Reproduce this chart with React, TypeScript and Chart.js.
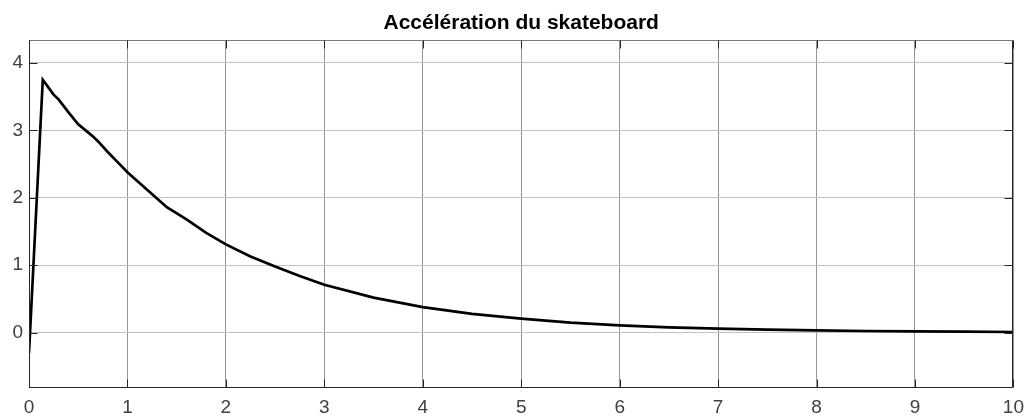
import React, { useEffect, useRef } from "react";
import { Chart, registerables } from "chart.js";

Chart.register(...registerables);

const titleText = "Accélération du skateboard";
const timeValues = [0, 0.14, 0.2, 0.25, 0.3, 0.4, 0.5, 0.6, 0.65, 0.7, 0.8, 0.9, 1.0, 1.2, 1.4, 1.6, 1.8, 2.0, 2.25, 2.5, 2.75, 3.0, 3.5, 4.0, 4.5, 5.0, 5.5, 6.0, 6.5, 7.0, 7.5, 8.0, 8.5, 9.0, 9.5, 10];
const accelValues = [-0.3, 3.75, 3.63, 3.53, 3.46, 3.27, 3.09, 2.97, 2.91, 2.84, 2.68, 2.53, 2.38, 2.12, 1.86, 1.68, 1.48, 1.31, 1.13, 0.98, 0.84, 0.71, 0.52, 0.38, 0.28, 0.21, 0.15, 0.11, 0.08, 0.06, 0.045, 0.035, 0.025, 0.02, 0.015, 0.01];
const xTicks = [0, 1, 2, 3, 4, 5, 6, 7, 8, 9, 10];
const yTicks = [0, 1, 2, 3, 4];
const yMin = -0.82;
const yMax = 4.34;

const boxPlugin = {
  id: "boxTicks",
  afterDraw(chart: any) {
    const { ctx, chartArea } = chart;
    const xs = chart.scales.x;
    const ys = chart.scales.y;
    ctx.save();
    // title centred over the plot area
    ctx.fillStyle = "#000000";
    ctx.font = "bold 21px 'Liberation Sans', Arial, sans-serif";
    ctx.textAlign = "center";
    ctx.textBaseline = "middle";
    ctx.fillText(titleText, (chartArea.left + chartArea.right) / 2, 23);

    ctx.lineWidth = 1;
    const L = Math.round(chartArea.left) + 0.5;
    const R = Math.round(chartArea.right) - 0.5;
    const T = Math.round(chartArea.top) + 0.5;
    const B = Math.round(chartArea.bottom) - 0.5;
    ctx.strokeStyle = "#7a7a7a";
    ctx.beginPath();
    ctx.moveTo(L, T);
    ctx.lineTo(R, T);
    ctx.stroke();
    ctx.strokeStyle = "#262626";
    ctx.beginPath();
    ctx.moveTo(L, T);
    ctx.lineTo(L, B);
    ctx.lineTo(R, B);
    ctx.lineTo(R, T);
    const tl = 8;
    xTicks.forEach((v) => {
      const px = Math.round(xs.getPixelForValue(v)) + 0.5;
      ctx.moveTo(px, B);
      ctx.lineTo(px, B - tl);
      ctx.moveTo(px, T);
      ctx.lineTo(px, T + tl);
    });
    yTicks.forEach((v) => {
      const py = Math.round(ys.getPixelForValue(v)) + 0.5;
      ctx.moveTo(L, py);
      ctx.lineTo(L + tl, py);
      ctx.moveTo(R, py);
      ctx.lineTo(R - tl, py);
    });
    ctx.stroke();
    ctx.restore();
  },
};

export default function App() {
  const ref = useRef<HTMLCanvasElement>(null);
  useEffect(() => {
    if (!ref.current) return;
    const chart = new Chart(ref.current, {
      type: "line",
      data: {
        datasets: [
          {
            data: timeValues.map((t, i) => ({ x: t, y: accelValues[i] })),
            borderColor: "#000000",
            borderWidth: 2.7,
            pointRadius: 0,
            tension: 0,
            fill: false,
          },
        ],
      },
      options: {
        responsive: false,
        animation: false,
        layout: { padding: { left: 0, right: 15, top: 40, bottom: 0 } },
        plugins: {
          legend: { display: false },
          tooltip: { enabled: false },
          title: { display: false },
        },
        scales: {
          x: {
            type: "linear",
            min: 0,
            max: 10,
            afterBuildTicks: (s: any) => {
              s.ticks = xTicks.map((v) => ({ value: v }));
            },
            afterFit: (s: any) => {
              s.height = 31;
            },
            grid: { color: "#959595", lineWidth: 1, tickLength: 0, drawTicks: false },
            border: { display: false },
            ticks: {
              color: "#404040",
              font: { family: "'Liberation Sans', Arial, sans-serif", size: 19 },
              padding: 8,
              maxRotation: 0,
              autoSkip: false,
            },
          },
          y: {
            type: "linear",
            min: yMin,
            max: yMax,
            afterBuildTicks: (s: any) => {
              s.ticks = yTicks.map((v) => ({ value: v }));
            },
            afterFit: (s: any) => {
              s.width = 29;
            },
            grid: { color: "#c2c2c2", lineWidth: 1, tickLength: 0, drawTicks: false },
            border: { display: false },
            ticks: {
              color: "#404040",
              font: { family: "'Liberation Sans', Arial, sans-serif", size: 19 },
              padding: 6,
            },
          },
        },
      },
      plugins: [boxPlugin],
    });
    return () => chart.destroy();
  }, []);
  return (
    <div style={{ position: "absolute", left: 0, top: 0, width: 1032, height: 419, background: "#ffffff" }}>
      <canvas ref={ref} width={1032} height={419} />
    </div>
  );
}
